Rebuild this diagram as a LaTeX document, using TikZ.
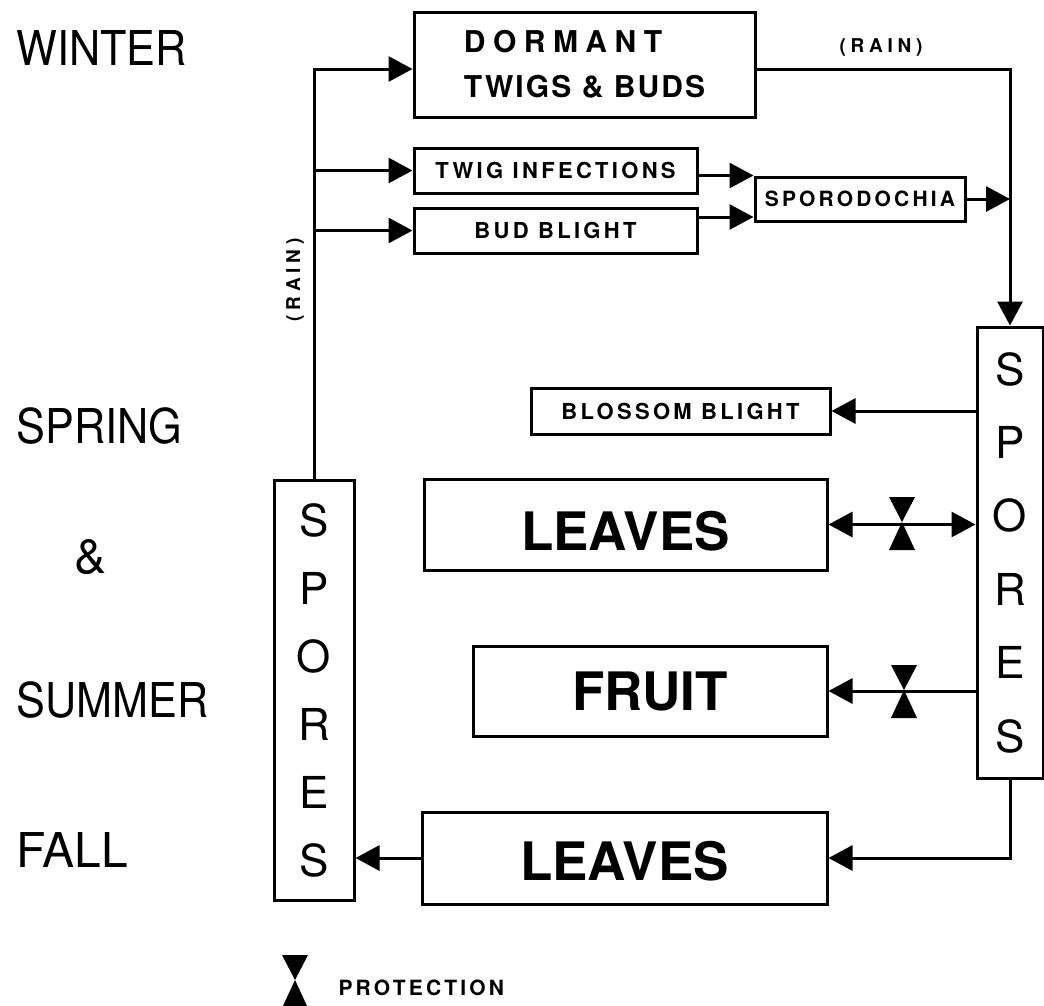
\documentclass[tikz,border=0pt]{standalone}
\usepackage{fontspec}
\setmainfont{TeX Gyre Heros}
\newfontfamily\lblfont[LetterSpace=15]{TeX Gyre Heros}
\newfontfamily\rainfont[LetterSpace=25]{TeX Gyre Heros}
\newfontfamily\dormfont[LetterSpace=25]{TeX Gyre Heros}
\newfontfamily\budsfont[LetterSpace=7]{TeX Gyre Heros}
\usetikzlibrary{arrows.meta}
\begin{document}
\begin{tikzpicture}[x=1pt,y=-1pt,line width=3pt,
  arr/.style={-{Triangle[length=24pt,width=25pt]}},
  arrtwo/.style={{Triangle[length=24pt,width=25pt]}-{Triangle[length=24pt,width=25pt]}},
  boxnode/.style={draw,line width=3pt,inner sep=0pt,align=center},
  smalllbl/.style={font=\lblfont\bfseries\fontsize{22}{22}\selectfont},
  biglbl/.style={font=\bfseries\fontsize{53}{53}\selectfont},
  season/.style={anchor=west,inner sep=0pt,font=\fontsize{48}{48}\selectfont},
  bowtie/.pic={\fill (-13,-25) -- (13,-25) -- (0,0) -- cycle;
               \fill (0,0) -- (-13,28) -- (13,28) -- cycle;}]
\useasboundingbox (0,0) rectangle (1044,1005);

% season labels
\node[season] (win) at (15,47.5) {\scalebox{0.9}[1]{WINTER}};
\node[season] (spr) at (15,425.5) {\scalebox{0.9}[1]{SPRING}};
\node[season] (amp) at (73,557.5) {\&};
\node[season] (sum) at (15,699.5) {\scalebox{0.9}[1]{SUMMER}};
\node[season] (fal) at (15,849.5) {FALL};

% boxes
\node[boxnode,align=left,minimum width=341pt,minimum height=105pt,
  font=\dormfont\bfseries\fontsize{30}{45}\selectfont] (dorm) at (584.5,64.5)
  {DORMANT\\{\budsfont\bfseries\fontsize{30}{45}\selectfont TWIGS \& BUDS}};
\node[boxnode,smalllbl,minimum width=283pt,minimum height=45pt] (twig) at (555.5,170.5) {TWIG INFECTIONS};
\node[boxnode,smalllbl,minimum width=283pt,minimum height=45pt] (bud) at (555.5,230.5) {BUD BLIGHT};
\node[boxnode,minimum width=210pt,minimum height=44pt,
  font=\lblfont\bfseries\fontsize{21}{21}\selectfont] (spor) at (860,199) {SPORODOCHIA};
\node[boxnode,minimum width=66pt,minimum height=451pt,
  font=\fontsize{44}{73.4}\selectfont] (rsp) at (1010,552.5) {S\\P\\O\\R\\E\\S};
\node[boxnode,smalllbl,minimum width=299pt,minimum height=46pt] (blos) at (680.5,411) {BLOSSOM BLIGHT};
\node[boxnode,biglbl,minimum width=403pt,minimum height=91pt,
  text height=51pt,text depth=0pt] (leafa) at (625.5,524.5) {LEAVES};
\node[boxnode,biglbl,minimum width=354pt,minimum height=90pt] (fruit) at (650,691) {FRUIT};
\node[boxnode,biglbl,minimum width=405pt,minimum height=92pt,
  text height=44pt,text depth=0pt] (leafb) at (624.5,858) {LEAVES};
\node[boxnode,minimum width=80pt,minimum height=420pt,
  font=\fontsize{44}{68}\selectfont] (lsp) at (314,690) {S\\P\\O\\R\\E\\S};

% rain labels
\node[inner sep=0pt,font=\rainfont\bfseries\fontsize{19}{19}\selectfont] (raina) at (881,47) {(RAIN)};
\node[inner sep=0pt,rotate=90,font=\rainfont\bfseries\fontsize{19}{19}\selectfont] (rainb) at (295,280) {(RAIN)};

% helper coordinates
\path (dorm.east) ++(0,4.5) coordinate (dr);
\path (dorm.west) ++(0,4.5) coordinate (dl);
\path (bud.east) ++(0,-13.5) coordinate (be);

% connectors
\draw[arr] (lsp.north) |- (dl);
\draw[arr] (lsp.north |- twig.west) -- (twig.west);
\draw[arr] (lsp.north |- bud.west) -- (bud.west);
\draw[arr] (twig.east |- spor.north) -- (spor.north west);
\draw[arr] (be) -- (be -| spor.west);
\draw[arr] (dr) -| (rsp.north);
\draw[arr] (spor.east) -- (spor.east -| rsp.north);
\draw[arr] (rsp.west |- blos.east) -- (blos.east);
\draw[arrtwo] (leafa.east) -- (leafa.east -| rsp.west);
\draw[arr] (rsp.west |- fruit.east) -- (fruit.east);
\draw[arr] (rsp.south) |- (leafb.east);
\draw[arr] (leafb.west) -- (leafb.west -| lsp.east);

% protection symbols
\pic at (902,522) {bowtie};
\pic at (904,690) {bowtie};
\pic at (295,980) {bowtie};
\node[anchor=west,inner sep=0pt,font=\lblfont\bfseries\fontsize{21}{21}\selectfont] (prot) at (337,988) {PROTECTION};
\end{tikzpicture}
\end{document}
